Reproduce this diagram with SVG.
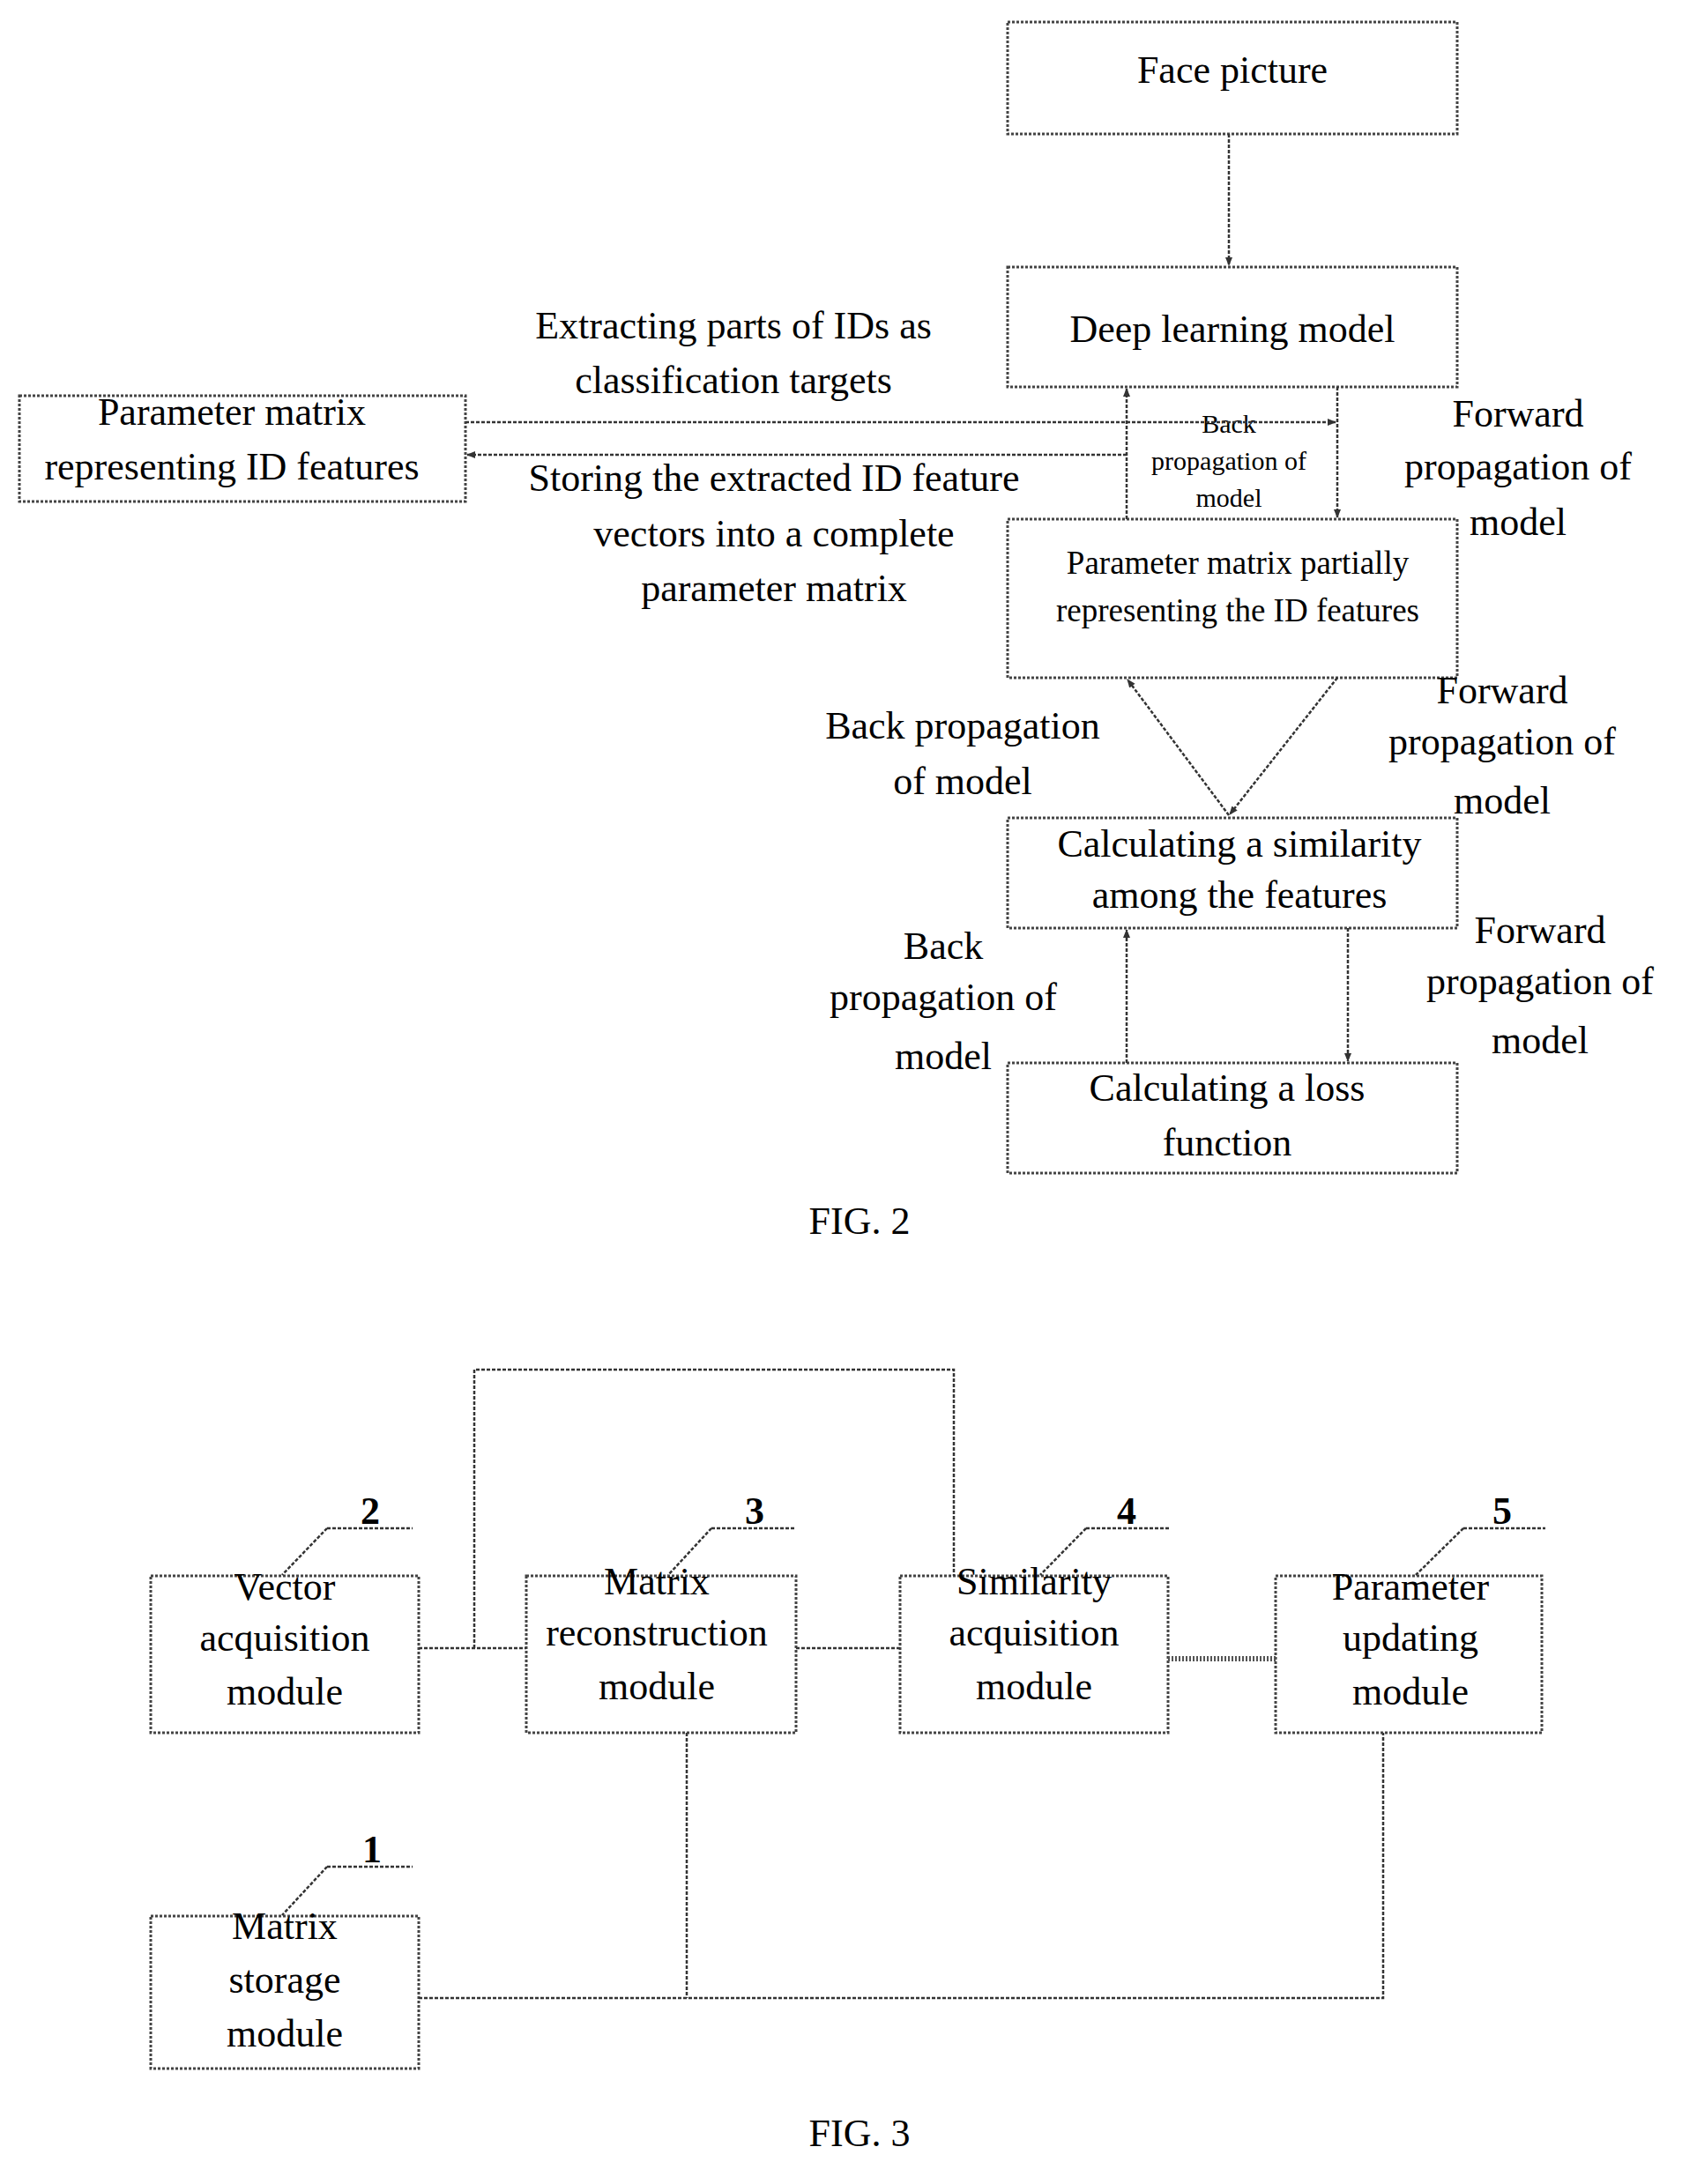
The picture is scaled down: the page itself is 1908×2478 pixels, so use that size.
<svg xmlns="http://www.w3.org/2000/svg" width="1908" height="2478" viewBox="0 0 1908 2478">
<style>
.b{fill:none;stroke:#444;stroke-width:3;stroke-dasharray:3 2}
.c{fill:none;stroke:#333;stroke-width:2.5;stroke-dasharray:4 2}
text{font-family:"Liberation Serif",serif;fill:#000;text-anchor:middle}
.t{font-size:44px}.m{font-size:37px}.s{font-size:30px}.n{font-size:44px;font-weight:bold}
</style>
<defs><marker id="a" markerWidth="10" markerHeight="10" refX="9" refY="5" orient="auto" markerUnits="userSpaceOnUse"><path d="M0,1 L10,5 L0,9 z" fill="#333"/></marker></defs>
<rect width="1908" height="2478" fill="#fff"/>
<g id="face"><rect class="b" x="1143" y="25" width="510" height="127"/><text class="t" x="1398" y="94">Face picture</text></g>
<g id="deep"><rect class="b" x="1143" y="303" width="510" height="136"/><text class="t" x="1398" y="388">Deep learning model</text></g>
<g id="idmatrix"><rect class="b" x="22" y="449" width="506" height="120"/><text class="t" x="263" y="482">Parameter matrix</text><text class="t" x="263" y="544">representing ID features</text></g>
<g id="partial"><rect class="b" x="1143" y="589" width="510" height="180"/><text class="m" x="1404" y="651">Parameter matrix partially</text><text class="m" x="1404" y="705">representing the ID features</text></g>
<g id="sim"><rect class="b" x="1143" y="928" width="510" height="125"/><text class="t" x="1406" y="972">Calculating a similarity</text><text class="t" x="1406" y="1030">among the features</text></g>
<g id="loss"><rect class="b" x="1143" y="1206" width="510" height="125"/><text class="t" x="1392" y="1249">Calculating a loss</text><text class="t" x="1392" y="1311">function</text></g>
<g id="labels2">
<text class="t" x="832" y="384">Extracting parts of IDs as</text><text class="t" x="832" y="446">classification targets</text>
<text class="t" x="878" y="557">Storing the extracted ID feature</text><text class="t" x="878" y="620">vectors into a complete</text><text class="t" x="878" y="682">parameter matrix</text>
<text class="t" x="1722" y="484">Forward</text><text class="t" x="1722" y="544">propagation of</text><text class="t" x="1722" y="607">model</text>
<text class="s" x="1394" y="491">Back</text><text class="s" x="1394" y="533">propagation of</text><text class="s" x="1394" y="575">model</text>
<text class="t" x="1092" y="838">Back propagation</text><text class="t" x="1092" y="901">of model</text>
<text class="t" x="1704" y="798">Forward</text><text class="t" x="1704" y="856">propagation of</text><text class="t" x="1704" y="923">model</text>
<text class="t" x="1070" y="1088">Back</text><text class="t" x="1070" y="1146">propagation of</text><text class="t" x="1070" y="1213">model</text>
<text class="t" x="1747" y="1070">Forward</text><text class="t" x="1747" y="1128">propagation of</text><text class="t" x="1747" y="1195">model</text>
<text class="t" x="975" y="1400">FIG. 2</text>
</g>
<g id="connectors2">
<path class="c" d="M1394,152 V301" marker-end="url(#a)"/>
<path class="c" d="M528,479 H1515" marker-end="url(#a)"/>
<path class="c" d="M1517,439 V587" marker-end="url(#a)"/>
<path class="c" d="M1278,589 V441" marker-end="url(#a)"/>
<path class="c" d="M1278,516 H530" marker-end="url(#a)"/>
<path class="c" d="M1394,925 L1279,771" marker-end="url(#a)"/>
<path class="c" d="M1517,769 L1395,924" marker-end="url(#a)"/>
<path class="c" d="M1278,1206 V1055" marker-end="url(#a)"/>
<path class="c" d="M1529,1053 V1204" marker-end="url(#a)"/>
</g>
<g id="m2"><rect class="b" x="171" y="1788" width="304" height="178"/><text class="t" x="323" y="1815">Vector</text><text class="t" x="323" y="1873">acquisition</text><text class="t" x="323" y="1934">module</text></g>
<g id="m3"><rect class="b" x="597" y="1788" width="306" height="178"/><text class="t" x="745" y="1809">Matrix</text><text class="t" x="745" y="1867">reconstruction</text><text class="t" x="745" y="1928">module</text></g>
<g id="m4"><rect class="b" x="1021" y="1788" width="304" height="178"/><text class="t" x="1173" y="1809">Similarity</text><text class="t" x="1173" y="1867">acquisition</text><text class="t" x="1173" y="1928">module</text></g>
<g id="m5"><rect class="b" x="1447" y="1788" width="302" height="178"/><text class="t" x="1600" y="1815">Parameter</text><text class="t" x="1600" y="1873">updating</text><text class="t" x="1600" y="1934">module</text></g>
<g id="m1"><rect class="b" x="171" y="2174" width="304" height="173"/><text class="t" x="323" y="2200">Matrix</text><text class="t" x="323" y="2261">storage</text><text class="t" x="323" y="2322">module</text></g>
<g id="refs">
<text class="n" x="420" y="1729">2</text><path class="c" d="M371,1734 H468 M371,1734 L320,1787"/>
<text class="n" x="856" y="1729">3</text><path class="c" d="M807,1734 H903 M807,1734 L758,1787"/>
<text class="n" x="1278" y="1729">4</text><path class="c" d="M1232,1734 H1327 M1232,1734 L1180,1787"/>
<text class="n" x="1704" y="1729">5</text><path class="c" d="M1660,1734 H1753 M1660,1734 L1606,1787"/>
<text class="n" x="422" y="2113">1</text><path class="c" d="M371,2118 H468 M371,2118 L320,2173"/>
<text class="t" x="975" y="2435">FIG. 3</text>
</g>
<g id="connectors3">
<path class="c" d="M475,1870 H597 M538,1870 V1554 H1082 V1788 M903,1870 H1021"/>
<path fill="none" stroke="#555" stroke-width="6" stroke-dasharray="2 2" d="M1325,1882 H1447"/>
<path class="c" d="M779,1966 V2267 M475,2267 H1569 V1966"/>
</g>
</svg>
